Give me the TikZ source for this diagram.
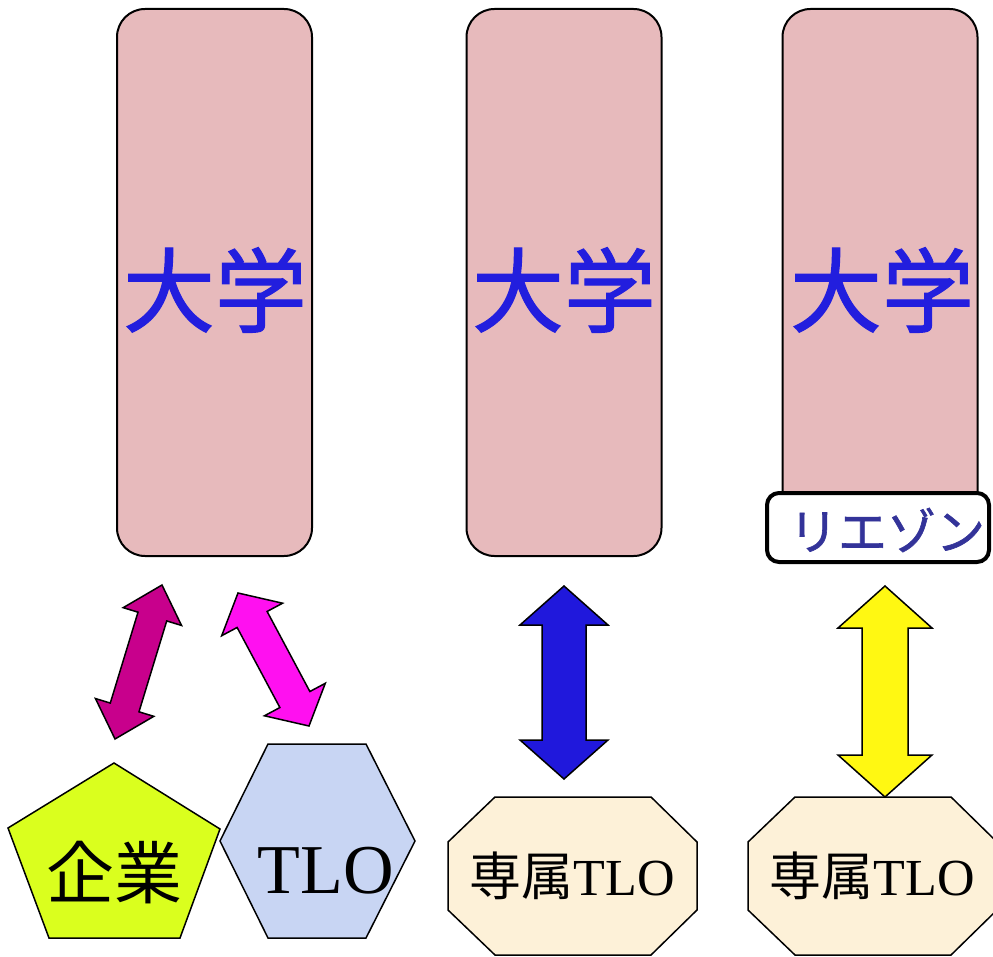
\documentclass[tikz,border=0pt]{standalone}
\usepackage{fontspec}
\setmainfont{Liberation Serif}
\newfontfamily\cjk{Noto Sans CJK JP}
\newfontfamily\cjkheavy[FakeBold=1.2]{Noto Sans CJK JP}
\usetikzlibrary{calc}
\definecolor{colfill}{RGB}{231,186,188}
\definecolor{univblue}{RGB}{34,30,222}
\definecolor{liaisonblue}{RGB}{51,51,153}
\definecolor{darkmag}{RGB}{200,0,140}
\definecolor{brightmag}{RGB}{255,16,240}
\definecolor{arrblue}{RGB}{32,24,220}
\definecolor{arryellow}{RGB}{255,248,18}
\definecolor{octfill}{RGB}{253,241,216}
\definecolor{pentfill}{RGB}{218,255,30}
\definecolor{hexfill}{RGB}{200,213,243}
\newcommand{\blockarrow}[6]{%
  \draw[arrowbody, fill=#6] (#1)
  -- ($(#1)!#5!(#2)!#4!90:(#2)$)
  -- ($(#1)!#5!(#2)!#3!90:(#2)$)
  -- ($(#2)!#5!(#1)!#3!-90:(#1)$)
  -- ($(#2)!#5!(#1)!#4!-90:(#1)$)
  -- (#2)
  -- ($(#2)!#5!(#1)!#4!90:(#1)$)
  -- ($(#2)!#5!(#1)!#3!90:(#1)$)
  -- ($(#1)!#5!(#2)!#3!-90:(#2)$)
  -- ($(#1)!#5!(#2)!#4!-90:(#2)$)
  -- cycle;}
\begin{document}
\begin{tikzpicture}[x=1pt,y=-1pt,
  column/.style={draw=black, line width=2pt, fill=colfill, rounded corners=28pt,
    minimum width=195pt, minimum height=547pt, inner sep=0pt},
  unitext/.style={font=\cjkheavy\fontsize{92}{92}\selectfont, text=univblue, inner sep=0pt},
  liaison/.style={draw=black, line width=4pt, fill=white, rounded corners=12pt,
    minimum width=222pt, minimum height=69pt, inner sep=0pt},
  liaisontext/.style={font=\cjkheavy\fontsize{49}{49}\selectfont, text=liaisonblue, inner sep=0pt},
  shapeline/.style={draw=black, line width=1.5pt, line join=miter},
  arrowbody/.style={draw=black, line width=1.5pt, line join=miter},
  tlotext/.style={inner sep=0pt, anchor=base, text=black},
]
\useasboundingbox (0,0) rectangle (993,957);
\fill[white] (0,0) rectangle (993,957);

% university columns
\node[column] (u1) at (214.5,282.5) {};
\node[column] (u2) at (564,282.5) {};
\node[column] (u3) at (880,282.5) {};
\node[unitext] (t1) at (215,290) {大学};
\node[unitext] (t2) at (564,290) {大学};
\node[unitext] (t3) at (882,290) {大学};

% liaison box
\node[liaison] (li) at (878,527.5) {};
\node[liaisontext] (lit) at (887,530) {リエゾン};

% pentagon (company)
\path[shapeline, fill=pentfill] (114,763) -- (220,829) -- (180,938) -- (49,938) -- (8,828) -- cycle;
\node[inner sep=0pt, font=\cjk\fontsize{68}{68}\selectfont] (kigyo) at (114,873) {企業};

% hexagon (TLO)
\path[shapeline, fill=hexfill] (220,841) -- (268,744) -- (366,744) -- (415,841) -- (366,938) -- (268,938) -- cycle;
\node[tlotext, font=\fontsize{70}{70}\selectfont] (tlo) at (326,893) {TLO};

% octagons (dedicated TLO)
\path[shapeline, fill=octfill] (448,842) -- (495,797) -- (651,797) -- (697,842) -- (697,910) -- (651,955) -- (495,955) -- (448,910) -- cycle;
\node[tlotext, font=\fontsize{52}{52}\selectfont] (s1) at (572.5,895) {{\cjk 専属}TLO};
\path[shapeline, fill=octfill] (748,842) -- (795,797) -- (951,797) -- (997,842) -- (997,910) -- (951,955) -- (795,955) -- (748,910) -- cycle;
\node[tlotext, font=\fontsize{52}{52}\selectfont] (s2) at (872.5,895) {{\cjk 専属}TLO};

% block arrows
\coordinate (a1s) at (162,585);
\coordinate (a1e) at (115,739);
\coordinate (a2s) at (238,593);
\coordinate (a2e) at (309,726);
\coordinate (a3s) at (564,586);
\coordinate (a3e) at (564,779);
\coordinate (a4s) at (885,586);
\coordinate (a4e) at (885,797);
\blockarrow{a1s}{a1e}{15pt}{30.5pt}{33pt}{darkmag}
\blockarrow{a2s}{a2e}{17pt}{34.5pt}{30pt}{brightmag}
\blockarrow{a3s}{a3e}{22pt}{44pt}{39pt}{arrblue}
\blockarrow{a4s}{a4e}{23pt}{47pt}{42pt}{arryellow}
\end{tikzpicture}
\end{document}
